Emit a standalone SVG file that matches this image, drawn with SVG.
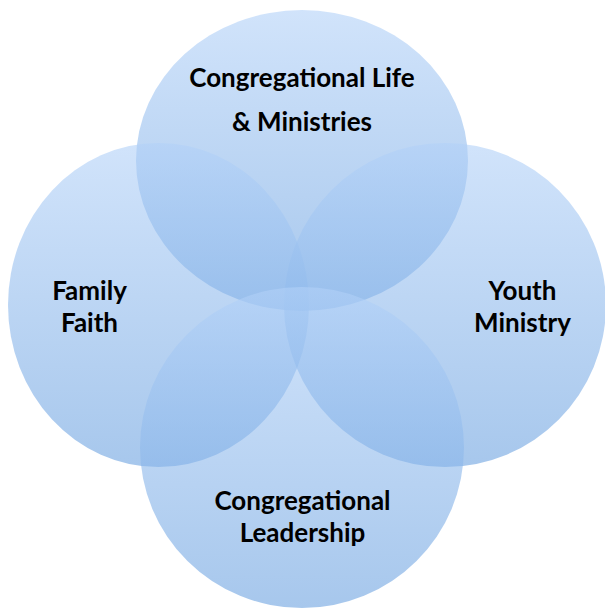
<svg xmlns="http://www.w3.org/2000/svg" width="605" height="609" viewBox="0 0 605 609">
  <defs>
    <linearGradient id="g" x1="0" y1="0" x2="0" y2="1">
      <stop offset="0" stop-color="#b2d1f8"/>
      <stop offset="1" stop-color="#6ca2e0"/>
    </linearGradient>
    <style>
      .c { fill: url(#g); fill-opacity: 0.6; }
      .t { font-family: Lato, "Open Sans", "Liberation Sans", sans-serif; font-weight: bold; font-size: 26px; fill: #000; text-anchor: middle; }
    </style>
  </defs>
  <rect width="605" height="609" fill="#ffffff"/>
  <g id="node-top">
    <ellipse class="c" cx="302" cy="160.5" rx="166" ry="150.5"/>
  </g>
  <g id="node-left">
    <ellipse class="c" cx="158.5" cy="305" rx="150.5" ry="162"/>
  </g>
  <g id="node-right">
    <ellipse class="c" cx="445" cy="305" rx="161" ry="162"/>
  </g>
  <g id="node-bottom">
    <ellipse class="c" cx="302" cy="447.5" rx="162" ry="160.5"/>
  </g>
  <g id="labels">
    <text class="t" x="302" y="87">Congregational Life</text>
    <text class="t" x="302" y="131">&amp; Ministries</text>
    <text class="t" x="89.5" y="300">Family</text>
    <text class="t" x="89.5" y="332">Faith</text>
    <text class="t" x="522.5" y="300">Youth</text>
    <text class="t" x="522.5" y="332">Ministry</text>
    <text class="t" x="302.5" y="510">Congregational</text>
    <text class="t" x="302.5" y="542">Leadership</text>
  </g>
  <g id="connectors"/>
</svg>
